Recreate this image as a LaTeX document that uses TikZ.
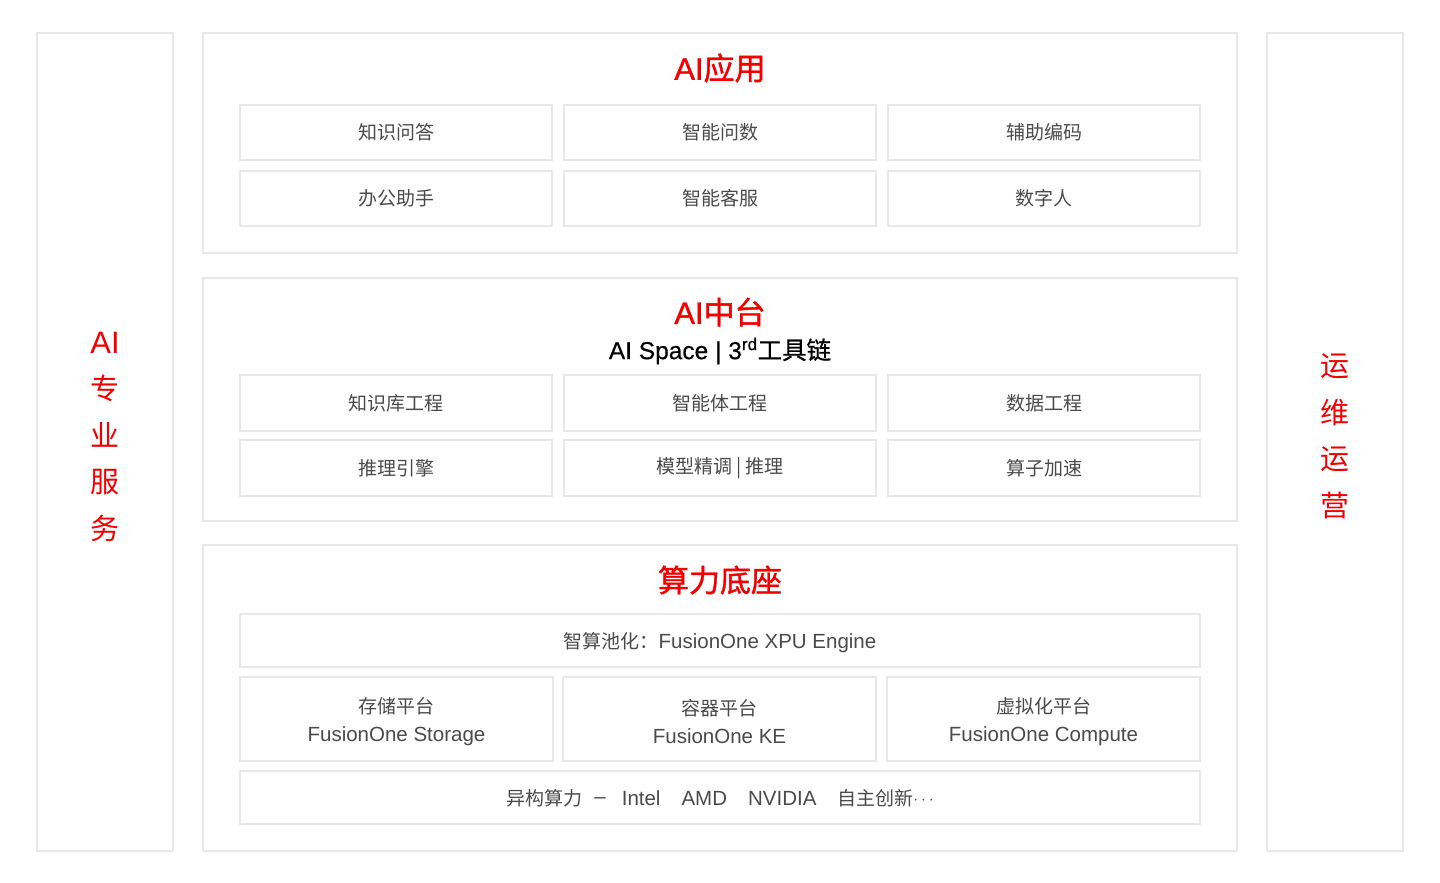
\documentclass[tikz,border=0pt]{standalone}
\usepackage{fontspec}
\setmainfont{Liberation Sans}
\newfontfamily\cjk{Noto Sans CJK SC}
\newfontfamily\cjkmed[FakeBold=1.2]{Noto Sans CJK SC}
\newfontfamily\latmed[FakeBold=1.0]{Liberation Sans}
\newfontfamily\cjksemi[FakeBold=0.6]{Noto Sans CJK SC}
\newfontfamily\latsemi[FakeBold=0.4]{Liberation Sans}
\newcommand{\zh}[1]{{\cjk #1}}
\definecolor{bordc}{HTML}{E8E8E8}
\definecolor{txtc}{HTML}{4A4A4A}
\definecolor{redc}{HTML}{F20000}
\begin{document}
\begin{tikzpicture}[x=1pt,y=-1pt,
  panel/.style={draw=bordc,line width=2pt,fill=white,inner sep=0pt},
  cell/.style={draw=bordc,line width=2pt,inner sep=0pt,text=txtc,align=center,
    minimum width=312pt,minimum height=55pt,font=\fontsize{19}{27}\selectfont},
  ctext/.style={inner sep=0pt,text=txtc,align=center,font=\fontsize{20.5}{28}\selectfont},
  title/.style={text=redc,font=\fontsize{31}{36}\selectfont,inner sep=0pt},
  side/.style={text=redc,font=\cjk\fontsize{29}{46.5}\selectfont,align=center,inner sep=0pt}]
\useasboundingbox[fill=white] (0,0) rectangle (1440,883);
% side columns
\node[panel,minimum width=136pt,minimum height=818pt] (left) at (105,442) {};
\node[panel,minimum width=136pt,minimum height=818pt] (right) at (1335,442) {};
\node[side] (lefttxt) at (105,436.5) {{\fontsize{31}{46.5}\selectfont\rmfamily AI}\\专\\业\\服\\务};
\node[side] (righttxt) at (1335,436.5) {运\\维\\运\\营};
% panels
\node[panel,minimum width=1034pt,minimum height=220pt] (p1) at (720,143) {};
\node[panel,minimum width=1034pt,minimum height=243pt] (p2) at (720,399.5) {};
\node[panel,minimum width=1034pt,minimum height=306pt] (p3) at (720,698) {};
% panel 1
\node[title] (t1) at (720,68) {{\latmed AI}{\cjkmed 应用}};
\node[cell] (a1) at (396,132.5) {\zh{知识问答}};
\node[cell] (a2) at (720,132.5) {\zh{智能问数}};
\node[cell] (a3) at (1044,132.5) {\zh{辅助编码}};
\node[cell] (a4) at (396,198.5) {\zh{办公助手}};
\node[cell] (a5) at (720,198.5) {\zh{智能客服}};
\node[cell] (a6) at (1044,198.5) {\zh{数字人}};
% panel 2
\node[title] (t2) at (720,312) {{\latmed AI}{\cjkmed 中台}};
\node[inner sep=0pt,font=\fontsize{24.5}{28}\selectfont,text=black] (t2b) at (720,351)
  {{\latsemi AI Space | 3\textsuperscript{rd}}{\cjksemi 工具链}};
\node[cell,minimum height=56pt] (b1) at (396,403) {\zh{知识库工程}};
\node[cell,minimum height=56pt] (b2) at (720,403) {\zh{智能体工程}};
\node[cell,minimum height=56pt] (b3) at (1044,403) {\zh{数据工程}};
\node[cell,minimum height=56pt] (b4) at (396,468) {\zh{推理引擎}};
\node[cell,minimum height=56pt] (b5) at (720,468) {\zh{模型精调 | 推理}};
\node[cell,minimum height=56pt] (b6) at (1044,468) {\zh{算子加速}};
% panel 3
\node[title] (t3) at (720,580) {{\cjkmed 算力底座}};
\node[panel,minimum width=960pt,minimum height=53pt] (c1) at (720,640.5) {};
\node[ctext] (c1t) at (720,642.5)
  {{\cjk\fontsize{19}{27}\selectfont 智算池化：}FusionOne XPU Engine};
\node[panel,minimum width=313pt,minimum height=84pt] (c2) at (396.5,719) {};
\node[panel,minimum width=313pt,minimum height=84pt] (c3) at (719.5,719) {};
\node[panel,minimum width=313pt,minimum height=84pt] (c4) at (1043.5,719) {};
\node[ctext] (c2t) at (396.5,721.5)
  {{\cjk\fontsize{19}{27}\selectfont 存储平台}\\FusionOne Storage};
\node[ctext] (c3t) at (719.5,721.5)
  {{\cjk\fontsize{19}{27}\selectfont 容器平台}\\FusionOne KE};
\node[ctext] (c4t) at (1043.5,721.5)
  {{\cjk\fontsize{19}{27}\selectfont 虚拟化平台}\\FusionOne Compute};
\node[panel,minimum width=960pt,minimum height=53pt] (c5) at (720,797.5) {};
\node[ctext] (c5t) at (720,798.5)
  {{\cjk\fontsize{19}{27}\selectfont 异构算力}\hspace{12pt}\raisebox{2.5pt}{\textendash}\hspace{16pt}Intel\hspace{21pt}AMD\hspace{21pt}NVIDIA\hspace{21pt}{\cjk\fontsize{19}{27}\selectfont 自主创新}\raisebox{1.5pt}{\fontsize{16}{16}\selectfont$\cdots$}};
\end{tikzpicture}
\end{document}
